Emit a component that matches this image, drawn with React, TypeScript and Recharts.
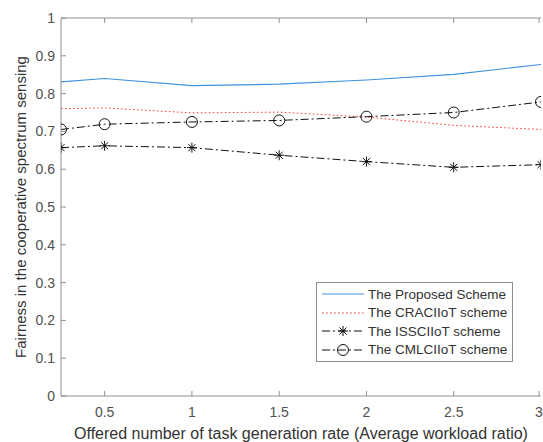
import { LineChart, Line, XAxis, YAxis } from "recharts";

const xValues = [0.25, 0.5, 1, 1.5, 2, 2.5, 3];
const proposed = [0.831, 0.84, 0.821, 0.825, 0.836, 0.851, 0.877];
const craciiot = [0.76, 0.762, 0.749, 0.751, 0.738, 0.716, 0.705];
const issciiot = [0.657, 0.662, 0.657, 0.637, 0.62, 0.605, 0.612];
const cmlciiot = [0.705, 0.719, 0.725, 0.729, 0.739, 0.75, 0.778];

const xTicks = [0.5, 1, 1.5, 2, 2.5, 3];
const yTicks = [0, 0.1, 0.2, 0.3, 0.4, 0.5, 0.6, 0.7, 0.8, 0.9, 1];

const seriesNames = [
  "The Proposed Scheme",
  "The CRACIIoT scheme",
  "The ISSCIIoT scheme",
  "The CMLCIIoT scheme",
];

const data = xValues.map((x, i) => ({
  x,
  proposed: proposed[i],
  crac: craciiot[i],
  iss: issciiot[i],
  cml: cmlciiot[i],
}));

const AXIS = "#909090";
const TEXT = "#505050";
const FONT = "Arial, 'Liberation Sans', Helvetica, sans-serif";
const DASHDOT = "8 3 2 3";

const Star = ({ cx, cy }: any) => {
  if (cx == null || cy == null) return null;
  const r = 5;
  const d = r * 0.707;
  return (
    <g stroke="#111" strokeWidth={1}>
      <line x1={cx - r} y1={cy} x2={cx + r} y2={cy} />
      <line x1={cx} y1={cy - r} x2={cx} y2={cy + r} />
      <line x1={cx - d} y1={cy - d} x2={cx + d} y2={cy + d} />
      <line x1={cx - d} y1={cy + d} x2={cx + d} y2={cy - d} />
    </g>
  );
};

const Ring = ({ cx, cy }: any) => {
  if (cx == null || cy == null) return null;
  return <circle cx={cx} cy={cy} r={5.5} fill="none" stroke="#111" strokeWidth={1} />;
};

const BottomTick = ({ x, y, payload }: any) => (
  <g>
    <line x1={x} y1={y} x2={x} y2={y - 5} stroke={AXIS} />
    <text x={x} y={y + 21} textAnchor="middle" fill={TEXT} fontSize={14} fontFamily={FONT}>
      {payload.value}
    </text>
  </g>
);

const TopTick = ({ x, y }: any) => (
  <line x1={x} y1={y} x2={x} y2={y + 5} stroke={AXIS} />
);

const LeftTick = ({ x, y, payload }: any) => (
  <g>
    <line x1={x} y1={y} x2={x + 5} y2={y} stroke={AXIS} />
    <text x={x - 6} y={y + 5} textAnchor="end" fill={TEXT} fontSize={14} fontFamily={FONT}>
      {payload.value}
    </text>
  </g>
);

const RightTick = ({ x, y }: any) => (
  <line x1={x} y1={y} x2={x - 5} y2={y} stroke={AXIS} />
);

const sample = (i: number) => {
  const y = 9;
  if (i === 0) return <line x1={2} y1={y} x2={44} y2={y} stroke="#4194dc" strokeWidth={1.2} />;
  if (i === 1)
    return <line x1={2} y1={y} x2={44} y2={y} stroke="#ff3030" strokeWidth={1} strokeDasharray="1.5 2.5" />;
  return (
    <g>
      <line x1={2} y1={y} x2={44} y2={y} stroke="#111" strokeWidth={1} strokeDasharray={DASHDOT} />
      {i === 2 ? <Star cx={23} cy={y} /> : <Ring cx={23} cy={y} />}
    </g>
  );
};

const LegendBox = () => (
  <div
    style={{
      position: "absolute",
      left: 316,
      top: 282,
      border: "1px solid #909090",
      background: "#fff",
      width: 192,
      padding: "2px 0 2px 3px",
      fontFamily: FONT,
      fontSize: 13.5,
      color: "#333",
    }}
  >
    {seriesNames.map((name, i) => (
      <div key={name} style={{ display: "flex", alignItems: "center", height: 18.5 }}>
        <svg width={48} height={18}>{sample(i)}</svg>
        <span style={{ marginLeft: 0 }}>{name}</span>
      </div>
    ))}
  </div>
);

export default function App() {
  return (
    <div style={{ position: "absolute", left: 0, top: 0, width: 543, height: 442, background: "#fff" }}>
      <LineChart
        width={543}
        height={442}
        data={data}
        margin={{ top: 0, right: 2, bottom: 0, left: 0 }}
      >
        <XAxis
          xAxisId="bottom"
          dataKey="x"
          type="number"
          domain={[0.25, 3]}
          ticks={xTicks}
          allowDataOverflow
          stroke={AXIS}
          tickSize={0}
          tickMargin={0}
          tick={<BottomTick />}
          height={46}
          label={{
            value: "Offered number of task generation rate (Average workload ratio)",
            position: "insideBottom",
            offset: 3,
            fill: "#333",
            fontSize: 16,
            fontFamily: FONT,
          }}
        />
        <XAxis
          xAxisId="top"
          orientation="top"
          dataKey="x"
          type="number"
          domain={[0.25, 3]}
          ticks={xTicks}
          allowDataOverflow
          stroke={AXIS}
          tickSize={0}
          tickMargin={0}
          tick={<TopTick />}
          height={18}
        />
        <YAxis
          yAxisId="left"
          type="number"
          domain={[0, 1]}
          ticks={yTicks}
          stroke={AXIS}
          tickSize={0}
          tickMargin={0}
          tick={<LeftTick />}
          width={61}
          label={{
            value: "Fairness in the cooperative spectrum sensing",
            angle: -90,
            position: "center",
            dx: -10,
            fill: "#333",
            fontSize: 15,
            fontFamily: FONT,
          }}
        />
        <YAxis
          yAxisId="right"
          orientation="right"
          type="number"
          domain={[0, 1]}
          ticks={yTicks}
          stroke={AXIS}
          tickSize={0}
          tickMargin={0}
          tick={<RightTick />}
          width={0}
        />
        <Line
          xAxisId="bottom"
          yAxisId="left"
          dataKey="proposed"
          stroke="#4194dc"
          strokeWidth={1.2}
          dot={false}
          isAnimationActive={false}
        />
        <Line
          xAxisId="bottom"
          yAxisId="left"
          dataKey="crac"
          stroke="#ff3030"
          strokeWidth={1}
          strokeDasharray="1.5 2.5"
          dot={false}
          isAnimationActive={false}
        />
        <Line
          xAxisId="bottom"
          yAxisId="left"
          dataKey="iss"
          stroke="#111"
          strokeWidth={1}
          strokeDasharray={DASHDOT}
          dot={<Star />}
          isAnimationActive={false}
        />
        <Line
          xAxisId="bottom"
          yAxisId="left"
          dataKey="cml"
          stroke="#111"
          strokeWidth={1}
          strokeDasharray={DASHDOT}
          dot={<Ring />}
          isAnimationActive={false}
        />
      </LineChart>
      <LegendBox />
    </div>
  );
}
